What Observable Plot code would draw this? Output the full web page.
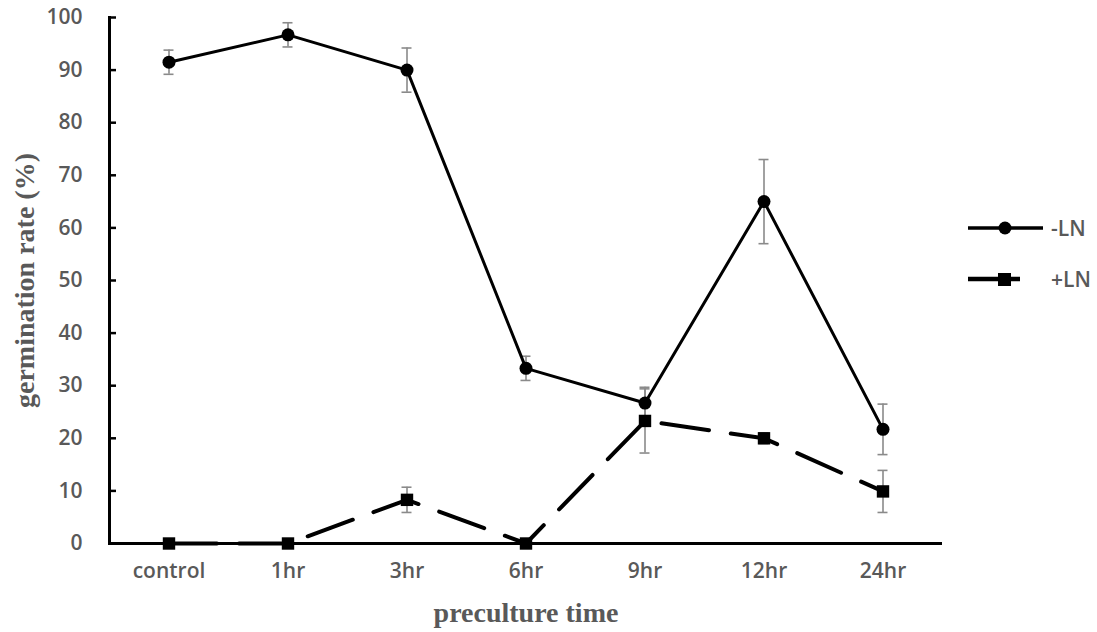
<!DOCTYPE html>
<html>
<head>
<meta charset="utf-8">
<script src="https://cdn.jsdelivr.net/npm/d3@7"></script>
<script src="https://cdn.jsdelivr.net/npm/@observablehq/plot@0.6"></script>
<style>
  html, body { margin: 0; padding: 0; background: #fff; }
  #wrap { position: relative; width: 1097px; height: 632px; }
  #legend { position: absolute; left: 966px; top: 202px; font-family: "Open Sans", sans-serif; font-weight: 600; font-size: 21px; color: #595959; }
  .lg { display: flex; align-items: center; height: 51px; }
  .lg span { margin-left: 5px; }
</style>
</head>
<body>
<div id="wrap">
  <div id="chart"></div>
  <div id="legend"></div>
</div>
<script>
const categories = ["control", "1hr", "3hr", "6hr", "9hr", "12hr", "24hr"];
const minusLN = [91.5, 96.7, 90.0, 33.3, 26.7, 65.0, 21.7];
const minusLNerr = [2.3, 2.3, 4.2, 2.3, 3.0, 8.0, 4.8];
const plusLN = [0, 0, 8.3, 0, 23.3, 20.0, 9.9];
const plusLNerr = [0, 0, 2.4, 0, 6.1, 1.0, 4.0];
const yTicks = [0, 10, 20, 30, 40, 50, 60, 70, 80, 90, 100];
const seriesNames = ["-LN", "+LN"];

const rows = [];
categories.forEach((c, i) => {
  rows.push({cat: c, series: "-LN", v: minusLN[i], e: minusLNerr[i]});
  rows.push({cat: c, series: "+LN", v: plusLN[i], e: plusLNerr[i]});
});
const minusRows = rows.filter(d => d.series === "-LN");
const plusRows = rows.filter(d => d.series === "+LN");
const errRows = rows.filter(d => d.e > 0);

const W = 1097, ML = 109, MR = 155;
const bandW = (W - ML - MR) / categories.length;

const gray = "#595959";
const chart = Plot.plot({
  width: W,
  height: 632,
  marginLeft: ML,
  marginRight: MR,
  marginTop: 17,
  marginBottom: 89,
  style: {fontFamily: "'Open Sans', sans-serif", fontSize: "21px", fontWeight: 600, color: gray, background: "#fff"},
  x: {type: "band", domain: categories, padding: 0, label: null},
  y: {domain: [0, 100], ticks: yTicks, label: null},
  marks: [
    Plot.axisY({ticks: yTicks, tickSize: 0, tickPadding: 27, fill: gray, fontSize: 21, label: null}),
    Plot.axisX({tickSize: 0, tickPadding: 20, fill: gray, fontSize: 21, label: null}),
    Plot.tickY(yTicks, {y: d => d, x: () => categories[0], insetRight: bandW - 7, stroke: "#000", strokeWidth: 2.5}),
    Plot.frame({anchor: "left", stroke: "#000", strokeWidth: 3}),
    Plot.ruleY([0], {stroke: "#000", strokeWidth: 3}),
    Plot.ruleX(errRows, {x: "cat", y1: d => d.v - d.e, y2: d => d.v + d.e, stroke: "#8a8a8a", strokeWidth: 1.6}),
    Plot.tickY(errRows, {x: "cat", y: d => d.v + d.e, stroke: "#8a8a8a", strokeWidth: 1.6, insetLeft: bandW / 2 - 5, insetRight: bandW / 2 - 5}),
    Plot.tickY(errRows, {x: "cat", y: d => d.v - d.e, stroke: "#8a8a8a", strokeWidth: 1.6, insetLeft: bandW / 2 - 5, insetRight: bandW / 2 - 5}),
    Plot.line(minusRows, {x: "cat", y: "v", stroke: "#000", strokeWidth: 3}),
    Plot.line(plusRows, {x: "cat", y: "v", stroke: "#000", strokeWidth: 4, strokeDasharray: "48,22"}),
    Plot.dot(minusRows, {x: "cat", y: "v", r: 6.5, symbol: "circle", fill: "#000"}),
    Plot.dot(plusRows, {x: "cat", y: "v", r: 7, symbol: "square", fill: "#000"}),
    Plot.text(["germination rate (%)"], {frameAnchor: "left", textAnchor: "middle", dx: -84, rotate: -90, fontFamily: "'Liberation Serif', serif", fontWeight: "bold", fontSize: 28, fill: gray}),
    Plot.text(["preculture time"], {frameAnchor: "bottom", dy: 78, fontFamily: "'Liberation Serif', serif", fontWeight: "bold", fontSize: 28, fill: gray})
  ]
});
document.getElementById("chart").appendChild(chart);

const legend = document.getElementById("legend");
legend.innerHTML = `
  <div class="lg"><svg width="80" height="20"><line x1="2" y1="10" x2="77" y2="10" stroke="#000" stroke-width="3.5"/><circle cx="39" cy="10" r="6.5" fill="#000"/></svg><span>${seriesNames[0]}</span></div>
  <div class="lg"><svg width="80" height="20"><line x1="2" y1="10" x2="54" y2="10" stroke="#000" stroke-width="4.5"/><rect x="32" y="4" width="13" height="13" fill="#000"/></svg><span>${seriesNames[1]}</span></div>`;
</script>
</body>
</html>
